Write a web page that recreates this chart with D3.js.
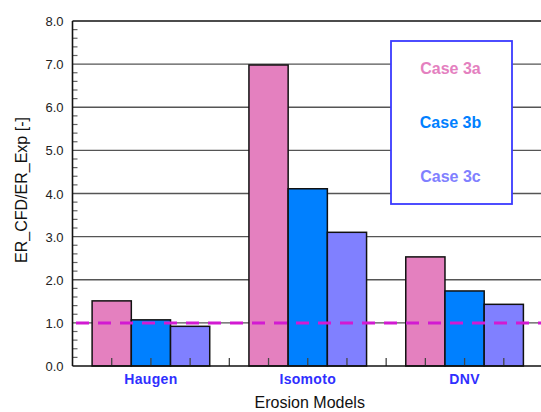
<!DOCTYPE html>
<html>
<head>
<meta charset="utf-8">
<script src="https://cdn.jsdelivr.net/npm/d3@7"></script>
<style>
  html, body { margin: 0; padding: 0; background: #fff; }
  svg { display: block; font-family: Arial, "Liberation Sans", sans-serif; }
</style>
</head>
<body>
<svg id="chart" width="541" height="412"></svg>
<script>
// Erosion-rate ratio (CFD / experiment) per erosion model and case
const models = ["Haugen", "Isomoto", "DNV"];
const cases = ["Case 3a", "Case 3b", "Case 3c"];
const case3a = [1.51, 6.98, 2.53];
const case3b = [1.07, 4.11, 1.74];
const case3c = [0.92, 3.10, 1.43];
const yTicks = [0, 1, 2, 3, 4, 5, 6, 7, 8];
const reference = 1.0;

const series = [case3a, case3b, case3c];
const colors = ["#e480bf", "#0080ff", "#8080ff"];

const svg = d3.select("#chart");
const W = 541, H = 412;
svg.append("rect").attr("width", W).attr("height", H).attr("fill", "#fff");

const plotLeft = 72.5, plotTop = 21, plotBottom = 366, plotRight = 543;

// x runs in bar-width slots: each model gets 3 bars plus one empty slot
const x = d3.scaleLinear().domain([0, 12]).range([plotLeft, plotRight]);
const y = d3.scaleLinear().domain([0, 8]).range([plotBottom, plotTop]);

// gridlines at major values
svg.append("g").selectAll("line")
  .data(yTicks.filter(v => v > 0 && v < 8))
  .join("line")
  .attr("x1", plotLeft).attr("x2", W)
  .attr("y1", d => y(d)).attr("y2", d => y(d))
  .attr("stroke", "#555").attr("stroke-width", 1.3);

// minor ticks on the left axis
svg.append("g").selectAll("line")
  .data(d3.range(0, 40).map(i => i * 0.2).filter((v, i) => i % 5 !== 0))
  .join("line")
  .attr("x1", plotLeft).attr("x2", plotLeft + 5)
  .attr("y1", d => y(d)).attr("y2", d => y(d))
  .attr("stroke", "#666").attr("stroke-width", 1.2);

// bars
const bars = [];
models.forEach((m, g) => {
  series.forEach((s, j) => {
    bars.push({ model: m, k: j, value: s[g], slot: 0.5 + 4 * g + j });
  });
});
svg.append("g").selectAll("rect")
  .data(bars)
  .join("rect")
  .attr("x", d => x(d.slot))
  .attr("width", d => x(d.slot + 1) - x(d.slot))
  .attr("y", d => y(d.value))
  .attr("height", d => y(0) - y(d.value))
  .attr("fill", d => colors[d.k])
  .attr("stroke", "#111").attr("stroke-width", 1.5);

// bottom ticks pointing inward
svg.append("g").selectAll("line")
  .data(d3.range(1, 12))
  .join("line")
  .attr("x1", d => x(d)).attr("x2", d => x(d))
  .attr("y1", plotBottom).attr("y2", plotBottom - 8)
  .attr("stroke", "#444").attr("stroke-width", 1.3);

// axis frame
svg.append("line").attr("x1", plotLeft).attr("x2", plotLeft).attr("y1", plotTop).attr("y2", plotBottom)
  .attr("stroke", "#111").attr("stroke-width", 1.6);
svg.append("line").attr("x1", plotLeft).attr("x2", W).attr("y1", plotBottom).attr("y2", plotBottom)
  .attr("stroke", "#111").attr("stroke-width", 1.6);
svg.append("line").attr("x1", plotLeft).attr("x2", W).attr("y1", plotTop).attr("y2", plotTop)
  .attr("stroke", "#111").attr("stroke-width", 1.6);

// reference line at ratio 1.0
svg.append("line")
  .attr("x1", plotLeft + 3.5).attr("x2", W)
  .attr("y1", y(reference)).attr("y2", y(reference))
  .attr("stroke", "#d21ad2").attr("stroke-width", 3)
  .attr("stroke-dasharray", "13,9");

// y tick labels
svg.append("g").selectAll("text")
  .data(yTicks)
  .join("text")
  .attr("x", 63.5).attr("y", d => y(d) + 5)
  .attr("text-anchor", "end")
  .attr("font-size", 13).attr("fill", "#222")
  .text(d => d.toFixed(1));

// category labels under the middle bar of each group
svg.append("g").selectAll("text")
  .data(models)
  .join("text")
  .attr("x", (d, g) => x(1.5 + 4 * g + 0.5))
  .attr("y", 383.5)
  .attr("text-anchor", "middle")
  .attr("font-size", 14).attr("font-weight", "bold")
  .attr("letter-spacing", 0.3)
  .attr("fill", "#2f2fff")
  .text(d => d);

// axis titles
svg.append("text")
  .attr("x", (plotLeft + W) / 2 + 3).attr("y", 408)
  .attr("text-anchor", "middle").attr("font-size", 16).attr("fill", "#111")
  .text("Erosion Models");
svg.append("text")
  .attr("transform", "translate(27,190) rotate(-90)")
  .attr("text-anchor", "middle").attr("font-size", 16).attr("fill", "#111")
  .text("ER_CFD/ER_Exp [-]");

// legend
const lg = svg.append("g");
lg.append("rect")
  .attr("x", 391).attr("y", 41).attr("width", 121).attr("height", 163)
  .attr("fill", "#fff").attr("stroke", "#3a3aff").attr("stroke-width", 1.8);
lg.selectAll("text")
  .data(cases)
  .join("text")
  .attr("x", 450.5).attr("y", (d, i) => 74 + i * 54)
  .attr("text-anchor", "middle")
  .attr("font-size", 16).attr("font-weight", "bold")
  .attr("fill", (d, i) => colors[i])
  .text(d => d);
</script>
</body>
</html>
